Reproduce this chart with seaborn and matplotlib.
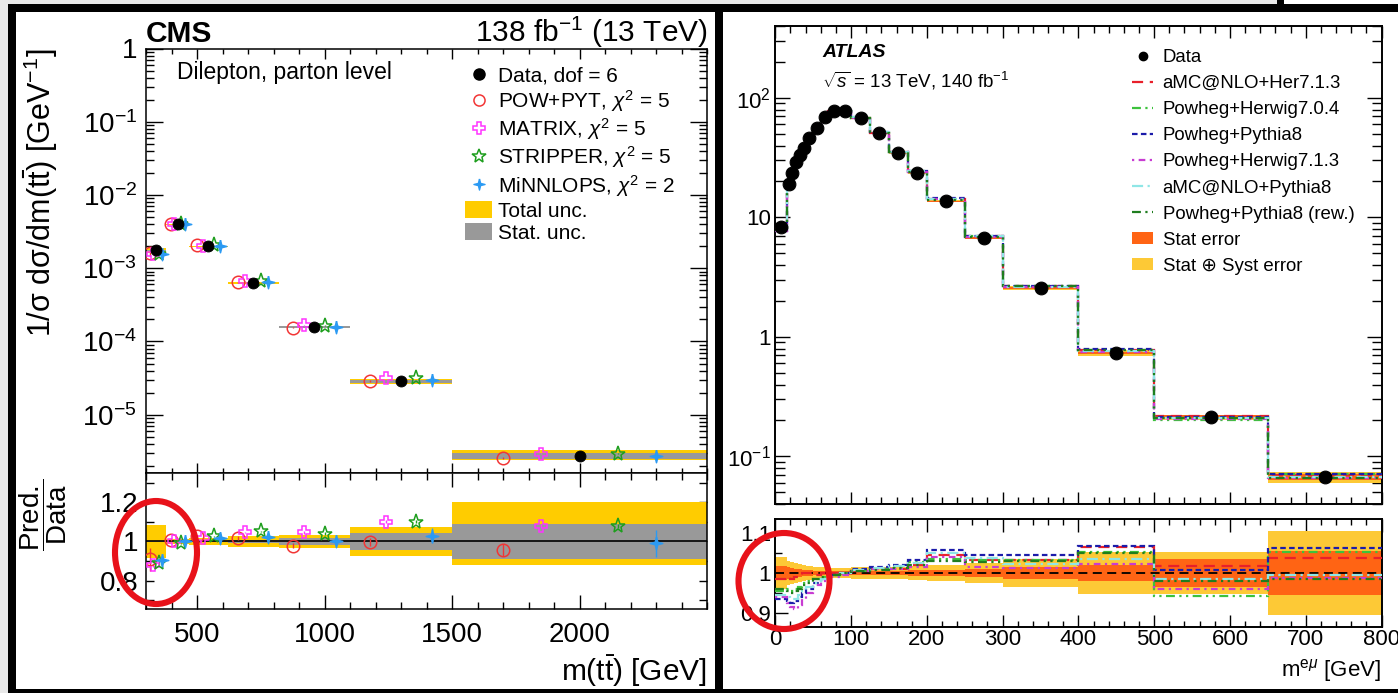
import numpy as np
import matplotlib
matplotlib.use("Agg")
import matplotlib.pyplot as plt
import seaborn as sns
from matplotlib.patches import Rectangle, Ellipse, Patch
from matplotlib.lines import Line2D
from matplotlib.ticker import FixedLocator, MultipleLocator, LogLocator, NullFormatter

# ---------------- CMS: dilepton, parton level, 1/sigma dsigma/dm(tt) ----------------
cms_edges = [300, 380, 470, 620, 820, 1100, 1500, 2500]
cms_data = [1.75e-3, 4.0e-3, 2.0e-3, 6.3e-4, 1.58e-4, 2.88e-5, 2.72e-6]
cms_tot_up = [0.085, 0.015, 0.02, 0.03, 0.035, 0.075, 0.20]
cms_tot_dn = [0.085, 0.015, 0.02, 0.03, 0.035, 0.075, 0.12]
cms_stat = [0.004, 0.004, 0.005, 0.008, 0.02, 0.045, 0.09]

# prediction / data
cms_ratio_powpyt = [0.909, 1.009, 1.028, 1.018, 0.979, 0.998, 0.956]
cms_ratio_matrix = [0.880, 1.000, 1.020, 1.047, 1.046, 1.102, 1.079]
cms_ratio_stripper = [0.890, 0.990, 1.026, 1.052, 1.040, 1.102, 1.080]
cms_ratio_minnlops = [0.906, 1.005, 1.018, 1.024, 1.005, 1.030, 0.991]
cms_err_powpyt = [0.06, 0.008, 0.006, 0.008, 0.012, 0.02, 0.03]
cms_err_matrix = [0.01, 0.004, 0.004, 0.004, 0.006, 0.008, 0.01]
cms_err_stripper = [0.01, 0.004, 0.004, 0.004, 0.006, 0.008, 0.01]
cms_err_minnlops = [0.015, 0.006, 0.005, 0.006, 0.012, 0.04, 0.07]

cms_labels = ["Data, dof = 6", r"POW+PYT, $\chi^{2}$ = 5", r"MATRIX, $\chi^{2}$ = 5",
              r"STRIPPER, $\chi^{2}$ = 5", r"MiNNLOPS, $\chi^{2}$ = 2",
              "Total unc.", "Stat. unc."]
cms_ytick_vals = [1e-5, 1e-4, 1e-3, 1e-2, 1e-1, 1.0]
cms_ytick_labels = [r"$10^{-5}$", r"$10^{-4}$", r"$10^{-3}$", r"$10^{-2}$", r"$10^{-1}$", "1"]
cms_xtick_vals = [500, 1000, 1500, 2000]
cms_rtick_vals = [0.7, 0.8, 0.9, 1.0, 1.1, 1.2, 1.3]
cms_rtick_labels = ["", "0.8", "", "1", "", "1.2", ""]

# ---------------- ATLAS: e-mu invariant mass ----------------
atlas_edges = [0, 15, 20, 25, 30, 35, 40, 50, 60, 70, 85, 100, 125, 150, 175,
               200, 250, 300, 400, 500, 650, 800]
atlas_data = [8.25, 19.0, 23.7, 29.1, 33.3, 38.3, 45.8, 56.2, 69.0, 77.4, 77.4,
              68.1, 50.8, 34.8, 23.7, 13.7, 6.73, 2.58, 0.736, 0.213, 0.0673]
atlas_stat = [0.018, 0.014, 0.012, 0.01, 0.009, 0.008, 0.007, 0.006, 0.006, 0.005, 0.005,
              0.005, 0.005, 0.006, 0.007, 0.008, 0.01, 0.015, 0.02, 0.035, 0.056]
atlas_tot = [0.04, 0.03, 0.028, 0.025, 0.022, 0.02, 0.018, 0.016, 0.014, 0.013, 0.013,
             0.015, 0.015, 0.016, 0.018, 0.02, 0.025, 0.035, 0.053, 0.053, 0.104]

atlas_r_amc_her713 = [0.985, 0.99, 0.985, 0.99, 0.995, 1.0, 1.0, 0.995, 1.0, 1.0, 1.0,
                      1.005, 1.01, 1.01, 1.02, 1.045, 1.032, 1.032, 1.066, 1.018, 1.038]
atlas_r_pow_her704 = [0.955, 0.96, 0.955, 0.96, 0.965, 0.975, 0.98, 0.985, 0.99, 0.995, 1.0,
                      1.005, 1.01, 1.015, 1.027, 1.035, 1.032, 1.032, 1.052, 0.943, 1.052]
atlas_r_pow_py8 = [0.935, 0.93, 0.925, 0.93, 0.94, 0.95, 0.96, 0.975, 0.985, 0.995, 1.0,
                   1.01, 1.015, 1.02, 1.033, 1.057, 1.045, 1.044, 1.067, 1.008, 1.0625]
atlas_r_pow_her713 = [0.94, 0.925, 0.915, 0.91, 0.92, 0.935, 0.95, 0.97, 0.98, 0.99, 0.995,
                      1.005, 1.01, 1.01, 1.015, 1.04, 1.015, 1.0125, 1.023, 0.96, 0.9875]
atlas_r_amc_py8 = [0.945, 0.94, 0.935, 0.935, 0.945, 0.955, 0.965, 0.975, 0.985, 0.995, 1.0,
                   1.008, 1.013, 1.018, 1.025, 1.05, 1.0375, 1.023, 1.035, 0.985, 0.996]
atlas_r_pow_py8_rew = [0.96, 0.955, 0.95, 0.955, 0.96, 0.97, 0.975, 0.985, 0.99, 0.995, 1.0,
                       1.005, 1.008, 1.012, 1.02, 1.03, 1.028, 1.03, 1.05, 0.98, 0.985]
atlas_labels = ["Data", "aMC@NLO+Her7.1.3", "Powheg+Herwig7.0.4", "Powheg+Pythia8",
                "Powheg+Herwig7.1.3", "aMC@NLO+Pythia8", "Powheg+Pythia8 (rew.)",
                "Stat error", "Stat \u2295 Syst error"]
atlas_ytick_vals = [0.1, 1, 10, 100]
atlas_ytick_labels = [r"$10^{-1}$", "1", "10", r"$10^{2}$"]
atlas_rtick_vals = [0.9, 1.0, 1.1]
atlas_rtick_labels = ["0.9", "1", "1.1"]

# ---------------- style ----------------
sns.set_theme(style="ticks")
plt.rcParams["font.family"] = ["Liberation Sans", "DejaVu Sans"]
plt.rcParams["mathtext.fontset"] = "custom"
plt.rcParams["mathtext.rm"] = "Liberation Sans"
plt.rcParams["mathtext.it"] = "Liberation Sans:italic"
plt.rcParams["mathtext.bf"] = "Liberation Sans:bold"
for k in ["text.color", "axes.labelcolor", "xtick.color", "ytick.color", "axes.edgecolor"]:
    plt.rcParams[k] = "black"

W, H = 1398, 693
fig = plt.figure(figsize=(W / 100, H / 100), dpi=100)
fig.patch.set_facecolor("white")


def frac(l, t, r, b):
    return [l / W, 1 - b / H, (r - l) / W, (b - t) / H]


def fx(x):
    return x / W


def fy(y):
    return 1 - y / H


def ticks(ax, xmaj, xmin, ymaj, ymin, lw, pad_x, pad_y, size):
    ax.tick_params(axis="x", which="major", direction="in", length=xmaj, width=lw,
                   top=True, bottom=True, pad=pad_x, labelsize=size)
    ax.tick_params(axis="x", which="minor", direction="in", length=xmin, width=lw,
                   top=True, bottom=True)
    ax.tick_params(axis="y", which="major", direction="in", length=ymaj, width=lw,
                   left=True, right=True, pad=pad_y, labelsize=size)
    ax.tick_params(axis="y", which="minor", direction="in", length=ymin, width=lw,
                   left=True, right=True)


YELLOW = "#ffcc00"
GREY = "#999999"
C_RED = "#f23535"
C_MAG = "#ff33ff"
C_GRN = "#1e9e1e"
C_BLU = "#2b9af3"
star4 = [(0, 1), (0.2, 0.2), (1, 0), (0.2, -0.2), (0, -1), (-0.2, -0.2), (-1, 0), (-0.2, 0.2), (0, 1)]

# ================= CMS panel =================
ax_c = fig.add_axes(frac(146, 48.5, 707, 473))
ax_cr = fig.add_axes(frac(146, 473, 707, 609), sharex=ax_c)

e = np.array(cms_edges, float)
lo = e[:-1]
wd = np.diff(e)
ctr = lo + wd / 2
d = np.array(cms_data)
tu, td, st = np.array(cms_tot_up), np.array(cms_tot_dn), np.array(cms_stat)

# uncertainty boxes
ax_c.bar(lo, d * (tu + td), width=wd, bottom=d * (1 - td), align="edge", color=YELLOW, lw=0, zorder=1)
ax_c.bar(lo, d * 2 * st, width=wd, bottom=d * (1 - st), align="edge", color=GREY, lw=0, zorder=2)
ax_cr.bar(lo, tu + td, width=wd, bottom=1 - td, align="edge", color=YELLOW, lw=0, zorder=1)
ax_cr.bar(lo, 2 * st, width=wd, bottom=1 - st, align="edge", color=GREY, lw=0, zorder=2)
ax_cr.axhline(1.0, color="black", lw=1.2, zorder=3)

cms_series = [
    (cms_ratio_powpyt, cms_err_powpyt, -0.30, "o", C_RED, False),
    (cms_ratio_matrix, cms_err_matrix, -0.15, "P", C_MAG, False),
    (cms_ratio_stripper, cms_err_stripper, 0.15, "*", C_GRN, False),
    (cms_ratio_minnlops, cms_err_minnlops, 0.30, star4, C_BLU, True),
]
for ratio, err, off, mk, col, filled in cms_series:
    r = np.array(ratio)
    er = np.array(err)
    xs = ctr + off * wd
    ms = 9 if mk != "*" else 11
    kw = dict(fmt="none", ecolor=col, elinewidth=1.0, capsize=0, zorder=4)
    ax_c.errorbar(xs, d * r, yerr=d * er, **kw)
    ax_cr.errorbar(xs, r, yerr=er, **kw)
    for a, yy in ((ax_c, d * r), (ax_cr, r)):
        a.plot(xs, yy, ls="none", marker=mk, ms=ms, mew=1.1, mec=col,
               mfc=(col if filled else "none"), zorder=5)

sns.scatterplot(x=ctr, y=d, ax=ax_c, color="black", edgecolor="black", s=62, zorder=6, legend=False)

ax_c.set_yscale("log")
ax_c.set_ylim(1.6e-6, 1.0)
ax_c.set_xlim(cms_edges[0], cms_edges[-1])
ax_c.yaxis.set_major_locator(FixedLocator(cms_ytick_vals))
ax_c.set_yticklabels(cms_ytick_labels)
ax_c.yaxis.set_minor_locator(LogLocator(base=10, subs=np.arange(2, 10)))
ax_c.yaxis.set_minor_formatter(NullFormatter())
ax_c.xaxis.set_major_locator(FixedLocator(cms_xtick_vals))
ax_c.xaxis.set_minor_locator(MultipleLocator(100))
ax_c.tick_params(labelbottom=False)
ticks(ax_c, 7, 3.5, 12, 6, 1.0, 9, 6.5, 20)

ax_cr.set_ylim(0.655, 1.35)
ax_cr.yaxis.set_major_locator(FixedLocator(cms_rtick_vals))
ax_cr.set_yticklabels(cms_rtick_labels)
ax_cr.set_xticks(cms_xtick_vals)
ax_cr.set_xticklabels([str(v) for v in cms_xtick_vals])
ax_cr.xaxis.set_minor_locator(MultipleLocator(100))
ticks(ax_cr, 10, 5, 6, 3, 1.0, 9, 5.5, 20)
for a in (ax_c, ax_cr):
    for s in a.spines.values():
        s.set_linewidth(1.1)
    a.set_xlabel("")
    a.set_ylabel("")

cms_handles = [
    Line2D([], [], ls="none", marker="o", color="black", ms=8),
    Line2D([], [], ls="none", marker="o", mfc="none", mec=C_RED, ms=8, mew=1.1),
    Line2D([], [], ls="none", marker="P", mfc="none", mec=C_MAG, ms=8, mew=1.1),
    Line2D([], [], ls="none", marker="*", mfc="none", mec=C_GRN, ms=10, mew=1.1),
    Line2D([], [], ls="none", marker=star4, mfc=C_BLU, mec=C_BLU, ms=8),
    Patch(facecolor=YELLOW, edgecolor="none"),
    Patch(facecolor=GREY, edgecolor="none"),
]
fig.legend(cms_handles, cms_labels, loc="upper left", bbox_to_anchor=(fx(465), fy(66)),
           frameon=False, fontsize=15, handlelength=1.3, handleheight=0.9,
           handletextpad=0.3, labelspacing=0.11, borderpad=0, borderaxespad=0)

fig.text(fx(146), fy(41.5), "CMS", weight="bold", size=21.5, va="baseline", ha="left")
fig.text(fx(708), fy(41.5), r"138 fb$^{-1}$ (13 TeV)", size=21.5, va="baseline", ha="right")
fig.text(fx(177), fy(79), "Dilepton, parton level", size=16.5, va="baseline", ha="left")
fig.text(fx(41), fy(49), r"1/σ dσ/dm(t$\bar{\mathrm{t}}$) [GeV$^{-1}$]", size=22,
         rotation=90, ha="center", va="top")
fig.text(fx(43), fy(515), r"$\dfrac{\mathrm{Pred.}}{\mathrm{Data}}$", size=20,
         rotation=90, ha="center", va="center")
fig.text(fx(707), fy(681), r"m(t$\bar{\mathrm{t}}$) [GeV]", size=21.5, va="baseline", ha="right")

# ================= ATLAS panel =================
ax_a = fig.add_axes(frac(775.3, 26, 1381.5, 504))
ax_ar = fig.add_axes(frac(775.3, 519.3, 1381.5, 626.7), sharex=ax_a)

ae = np.array(atlas_edges, float)
alo = ae[:-1]
awd = np.diff(ae)
actr = alo + awd / 2
ad = np.array(atlas_data)
ast, atot = np.array(atlas_stat), np.array(atlas_tot)
A_YEL = "#fdc936"
A_ORG = "#ff6414"

ax_a.bar(alo, ad * 2 * atot, width=awd, bottom=ad * (1 - atot), align="edge", color=A_YEL, lw=0, zorder=1)
ax_a.bar(alo, ad * 2 * ast, width=awd, bottom=ad * (1 - ast), align="edge", color=A_ORG, lw=0, zorder=2)
ax_ar.bar(alo, 2 * atot, width=awd, bottom=1 - atot, align="edge", color=A_YEL, lw=0, zorder=1)
ax_ar.bar(alo, 2 * ast, width=awd, bottom=1 - ast, align="edge", color=A_ORG, lw=0, zorder=2)
ax_ar.axhline(1.0, color="black", lw=1.3, ls=(0, (5, 3)), zorder=3)

atlas_series = [
    (atlas_r_amc_her713, "#e8202a", (0, (5, 3))),
    (atlas_r_pow_her704, "#3cc23c", (0, (4, 2, 1, 2, 1, 2))),
    (atlas_r_pow_py8, "#1c1caa", (0, (2.5, 1.5))),
    (atlas_r_pow_her713, "#c83cd2", (0, (1, 2, 3, 2))),
    (atlas_r_amc_py8, "#8fe6e6", (0, (5, 2, 1, 2))),
    (atlas_r_pow_py8_rew, "#1f7d1f", (0, (4, 2, 1, 2, 1, 2))),
]
atlas_handles = [Line2D([], [], ls="none", marker="o", color="black", ms=6)]
for ratio, col, ls in atlas_series:
    r = np.array(ratio)
    ax_a.stairs(ad * r, ae, color=col, ls=ls, lw=1.6, baseline=None, zorder=4)
    ax_ar.stairs(r, ae, color=col, ls=ls, lw=1.6, baseline=None, zorder=4)
    atlas_handles.append(Line2D([], [], color=col, ls=ls, lw=1.6))
atlas_handles += [Patch(facecolor=A_ORG, edgecolor="none"), Patch(facecolor=A_YEL, edgecolor="none")]

sns.scatterplot(x=actr, y=ad, ax=ax_a, color="black", edgecolor="black", s=85, zorder=6, legend=False)

ax_a.set_yscale("log")
ax_a.set_ylim(0.04, 400)
ax_a.set_xlim(atlas_edges[0], atlas_edges[-1])
ax_a.yaxis.set_major_locator(FixedLocator(atlas_ytick_vals))
ax_a.set_yticklabels(atlas_ytick_labels)
ax_a.yaxis.set_minor_locator(LogLocator(base=10, subs=np.arange(2, 10)))
ax_a.yaxis.set_minor_formatter(NullFormatter())
ax_a.xaxis.set_major_locator(MultipleLocator(100))
ax_a.xaxis.set_minor_locator(MultipleLocator(20))
ax_a.tick_params(labelbottom=False)
ticks(ax_a, 8.5, 5, 11, 7.5, 1.0, 2, 3, 16)

ax_ar.set_ylim(0.866, 1.134)
ax_ar.yaxis.set_major_locator(FixedLocator(atlas_rtick_vals))
ax_ar.set_yticklabels(atlas_rtick_labels)
ax_ar.yaxis.set_minor_locator(MultipleLocator(0.05))
ax_ar.xaxis.set_major_locator(MultipleLocator(100))
ax_ar.xaxis.set_minor_locator(MultipleLocator(20))
ticks(ax_ar, 9, 4, 9, 5, 1.0, 2, 3, 16)
for a in (ax_a, ax_ar):
    for s in a.spines.values():
        s.set_linewidth(1.4)
    a.set_xlabel("")
    a.set_ylabel("")

fig.legend(atlas_handles, atlas_labels, loc="upper left", bbox_to_anchor=(fx(1132), fy(49)),
           frameon=False, fontsize=13.4, handlelength=1.15, handleheight=0.6,
           handletextpad=0.5, labelspacing=0.49, borderpad=0, borderaxespad=0)

fig.text(fx(822), fy(57), "ATLAS", weight="bold", style="italic", size=14, va="baseline")
fig.text(fx(822), fy(88), r"$\sqrt{s}$ = 13 TeV, 140 fb$^{-1}$", size=13.5, va="baseline")
fig.text(fx(1381.5), fy(676), r"m$^{\mathrm{e}\mu}$ [GeV]", size=16, va="baseline", ha="right")

# ================= frames and highlight rings =================
def rect(x, y, w, h, c):
    fig.add_artist(Rectangle((fx(x), fy(y + h)), w / W, h / H, transform=fig.transFigure,
                             facecolor=c, edgecolor="none", zorder=20))


rect(0, 0, 1277, 4, "#e8e8e8")
rect(0, 0, 8, H, "#e8e8e8")
rect(8, 4, W - 8, 8, "black")
rect(8, 4, 8, H - 4, "black")
rect(715, 4, 8, H - 4, "black")
rect(1277, 0, 7, 4, "black")
rect(8, 689, W - 8, 4, "black")

for cx, cy, w, h in [(156, 552.5, 82, 103), (784, 581, 91, 96)]:
    fig.add_artist(Ellipse((fx(cx), fy(cy)), w / W, h / H, transform=fig.transFigure,
                           fill=False, edgecolor="#e8121a", lw=4.4, zorder=25))

fig.savefig("out.png", dpi=100)
